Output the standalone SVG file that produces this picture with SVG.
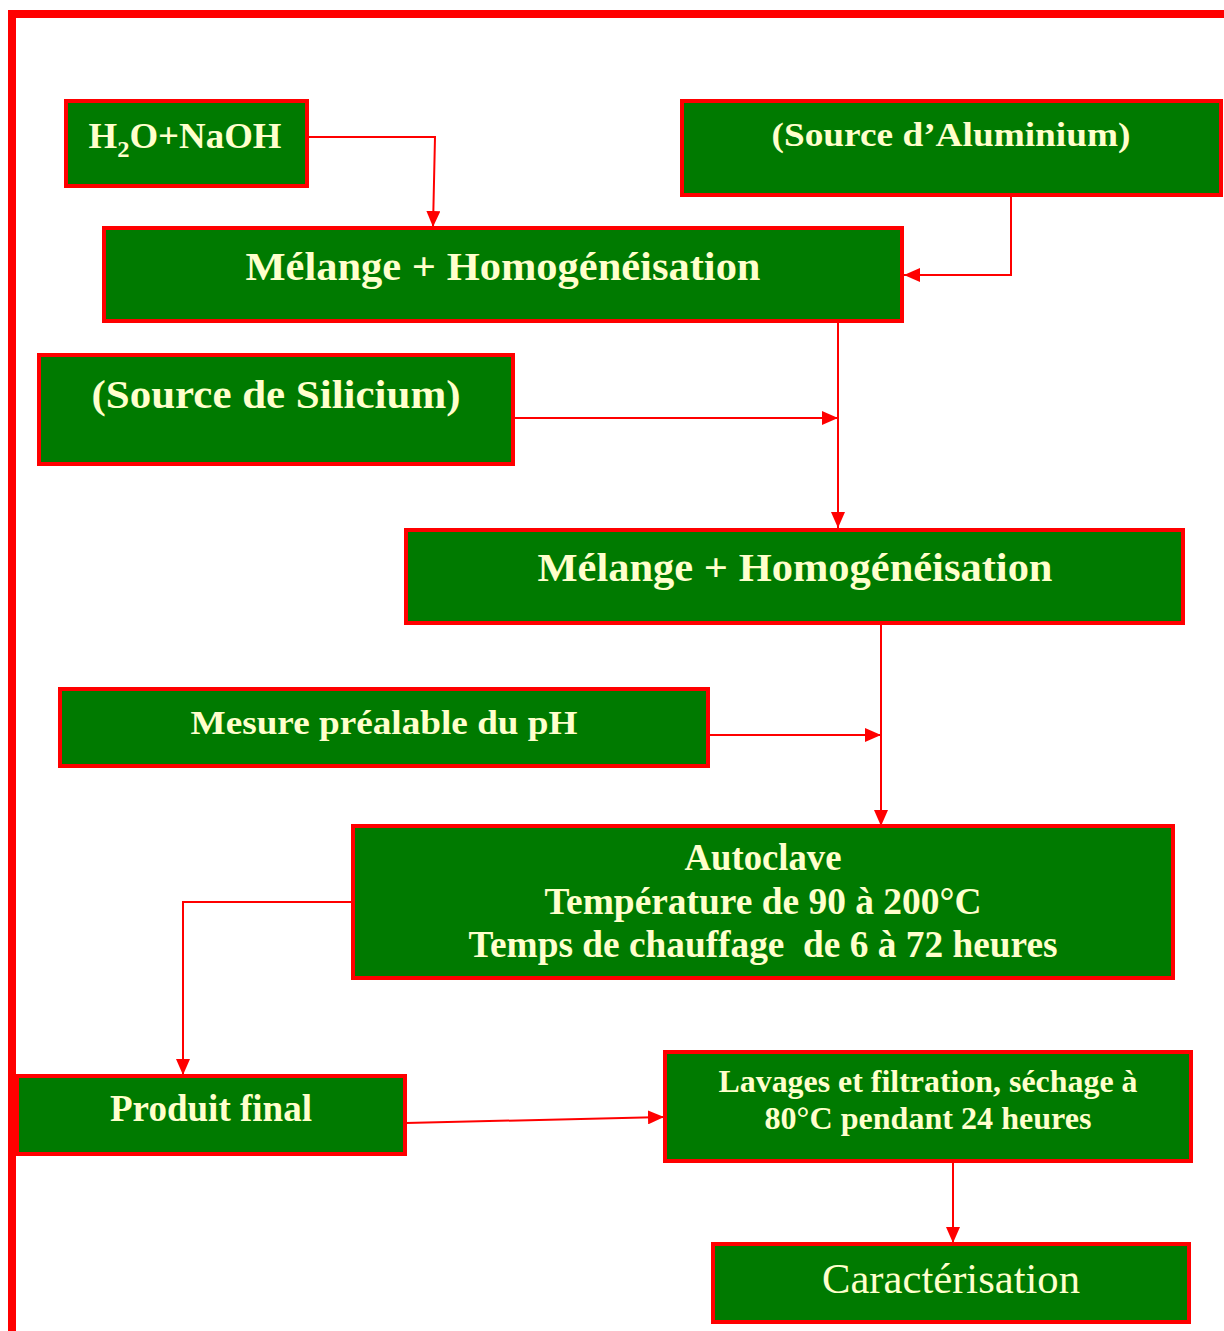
<svg xmlns="http://www.w3.org/2000/svg" width="1224" height="1331" viewBox="0 0 1224 1331">
<style>
.box{fill:#007A00;stroke:#FF0000;stroke-width:4}
.t{font-family:"Liberation Serif","Times New Roman",serif;font-weight:bold;fill:#FFFFCC;text-anchor:middle}
.r{font-family:"Liberation Serif","Times New Roman",serif;font-weight:normal;fill:#FFFFCC;text-anchor:middle}
.c{fill:none;stroke:#FF0000;stroke-width:2}
</style>
<defs>
<marker id="ah" viewBox="0 0 16 14" refX="16" refY="7" markerWidth="16" markerHeight="14" markerUnits="userSpaceOnUse" orient="auto">
<path d="M0,0 L16,7 L0,14 z" fill="#FF0000"/>
</marker>
</defs>
<rect width="1224" height="1331" fill="#FFFFFF"/>
<path d="M12,1331 V14 H1224" fill="none" stroke="#FF0000" stroke-width="8"/>

<g id="connectors">
<path class="c" d="M308,137 H435 L433,227" marker-end="url(#ah)"/>
<path class="c" d="M1011,196 V275 H904" marker-end="url(#ah)"/>
<path class="c" d="M838,322 V528" marker-end="url(#ah)"/>
<path class="c" d="M514,418 H838" marker-end="url(#ah)"/>
<path class="c" d="M881,624 V826" marker-end="url(#ah)"/>
<path class="c" d="M709,735 H881" marker-end="url(#ah)"/>
<path class="c" d="M352,902 H183 V1075" marker-end="url(#ah)"/>
<path class="c" d="M406,1123 L664,1117" marker-end="url(#ah)"/>
<path class="c" d="M953,1162 V1243" marker-end="url(#ah)"/>
</g>

<g id="n-h2o">
<rect class="box" x="66" y="101" width="241" height="85"/>
<text class="t" x="185" y="148" font-size="36" textLength="193" lengthAdjust="spacingAndGlyphs">H<tspan font-size="24" dy="9">2</tspan><tspan dy="-9">O+NaOH</tspan></text>
</g>
<g id="n-alu">
<rect class="box" x="682" y="101" width="539" height="94"/>
<text class="t" x="951" y="146" font-size="33" textLength="359" lengthAdjust="spacingAndGlyphs">(Source d’Aluminium)</text>
</g>
<g id="n-mel1">
<rect class="box" x="104" y="228" width="798" height="93"/>
<text class="t" x="503" y="280" font-size="41" textLength="515" lengthAdjust="spacingAndGlyphs">Mélange + Homogénéisation</text>
</g>
<g id="n-si">
<rect class="box" x="39" y="355" width="474" height="109"/>
<text class="t" x="276" y="408" font-size="41" textLength="369" lengthAdjust="spacingAndGlyphs">(Source de Silicium)</text>
</g>
<g id="n-mel2">
<rect class="box" x="406" y="530" width="777" height="93"/>
<text class="t" x="795" y="581" font-size="41" textLength="515" lengthAdjust="spacingAndGlyphs">Mélange + Homogénéisation</text>
</g>
<g id="n-ph">
<rect class="box" x="60" y="689" width="648" height="77"/>
<text class="t" x="384" y="734" font-size="34" textLength="387" lengthAdjust="spacingAndGlyphs">Mesure préalable du pH</text>
</g>
<g id="n-auto">
<rect class="box" x="353" y="826" width="820" height="152"/>
<text class="t" x="763" y="870" font-size="37" textLength="157" lengthAdjust="spacingAndGlyphs">Autoclave</text>
<text class="t" x="763" y="914" font-size="37" textLength="437" lengthAdjust="spacingAndGlyphs">Température de 90 à 200°C</text>
<text class="t" x="763" y="957" font-size="37" textLength="589" lengthAdjust="spacingAndGlyphs" xml:space="preserve">Temps de chauffage  de 6 à 72 heures</text>
</g>
<g id="n-prod">
<rect class="box" x="17" y="1076" width="388" height="78"/>
<text class="t" x="211" y="1121" font-size="38" textLength="202" lengthAdjust="spacingAndGlyphs">Produit final</text>
</g>
<g id="n-lav">
<rect class="box" x="665" y="1052" width="526" height="109"/>
<text class="t" x="928" y="1092" font-size="31" textLength="419" lengthAdjust="spacingAndGlyphs">Lavages et filtration, séchage à</text>
<text class="t" x="928" y="1129" font-size="31" textLength="327" lengthAdjust="spacingAndGlyphs">80°C pendant 24 heures</text>
</g>
<g id="n-car">
<rect class="box" x="713" y="1244" width="476" height="78"/>
<text class="r" x="951" y="1293" font-size="42" textLength="258" lengthAdjust="spacingAndGlyphs">Caractérisation</text>
</g>
</svg>
